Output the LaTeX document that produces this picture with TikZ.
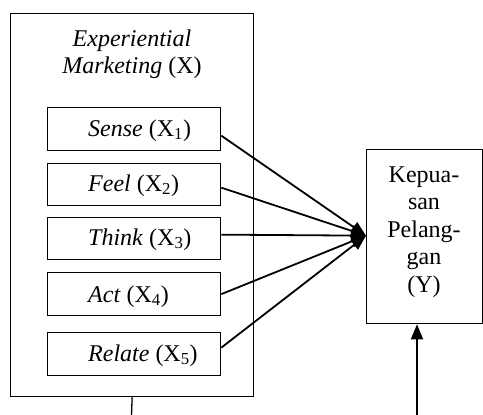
\documentclass[tikz,border=0pt]{standalone}
\usepackage{fontspec}
\setmainfont{Liberation Serif}
\usetikzlibrary{arrows.meta}
\begin{document}
\begin{tikzpicture}[x=1pt,y=-1pt,
  box/.style={draw, line width=1.3pt, inner sep=0pt, anchor=north west},
  txt/.style={inner sep=0pt, font=\fontsize{24}{27.5}\selectfont},
  lbl/.style={txt, anchor=base west},
  arr/.style={line width=1.8pt, -{Triangle[length=15pt,width=12pt]}}]
\useasboundingbox (0,0) rectangle (483,415);
% outer box
\node[box, minimum width=243pt, minimum height=383pt] (outer) at (10,13) {};
\node[txt, anchor=base] (t1) at (132,46) {\textit{Experiential}};
\node[txt, anchor=base] (t2) at (132,74) {\textit{Marketing} (X)};
% inner boxes
\node[box, minimum width=173pt, minimum height=43pt] (sense) at (47,107) {};
\node[box, minimum width=173pt, minimum height=42pt] (feel) at (47,163) {};
\node[box, minimum width=173pt, minimum height=42pt] (think) at (47,217) {};
\node[box, minimum width=173pt, minimum height=43pt] (act) at (47,272) {};
\node[box, minimum width=173pt, minimum height=43pt] (relate) at (47,332) {};
\node[lbl] (l1) at (88,136) {\textit{Sense} (X\textsubscript{1})};
\node[lbl] (l2) at (88,191) {\textit{Feel} (X\textsubscript{2})};
\node[lbl] (l3) at (88,245) {\textit{Think} (X\textsubscript{3})};
\node[lbl] (l4) at (88,302) {\textit{Act} (X\textsubscript{4})};
\node[lbl] (l5) at (88,361) {\textit{Relate} (X\textsubscript{5})};
% Y box
\node[box, minimum width=116pt, minimum height=174pt] (ybox) at (366,149) {};
\node[txt, align=center, anchor=center] (ytext) at (424,232) {Kepua-\\san\\Pelang-\\gan\\(Y)};
% arrows
\coordinate (tip) at ([yshift=1pt]ybox.west);
\draw[arr] ([yshift=-6.5pt]sense.east) -- (tip);
\draw[arr] ([yshift=-3pt]feel.east) -- (tip);
\draw[arr] ([yshift=4pt]think.east) -- (tip);
\draw[arr] (act.east) -- (tip);
\draw[arr] ([yshift=6.5pt]relate.east) -- (tip);
% bottom lines
\coordinate (b1) at (131.5,415);
\draw[line width=1.3pt] (outer.south) -- (b1);
\coordinate (b2) at (417,415);
\draw[arr] (b2) -- (b2 |- ybox.south);
\end{tikzpicture}
\end{document}
